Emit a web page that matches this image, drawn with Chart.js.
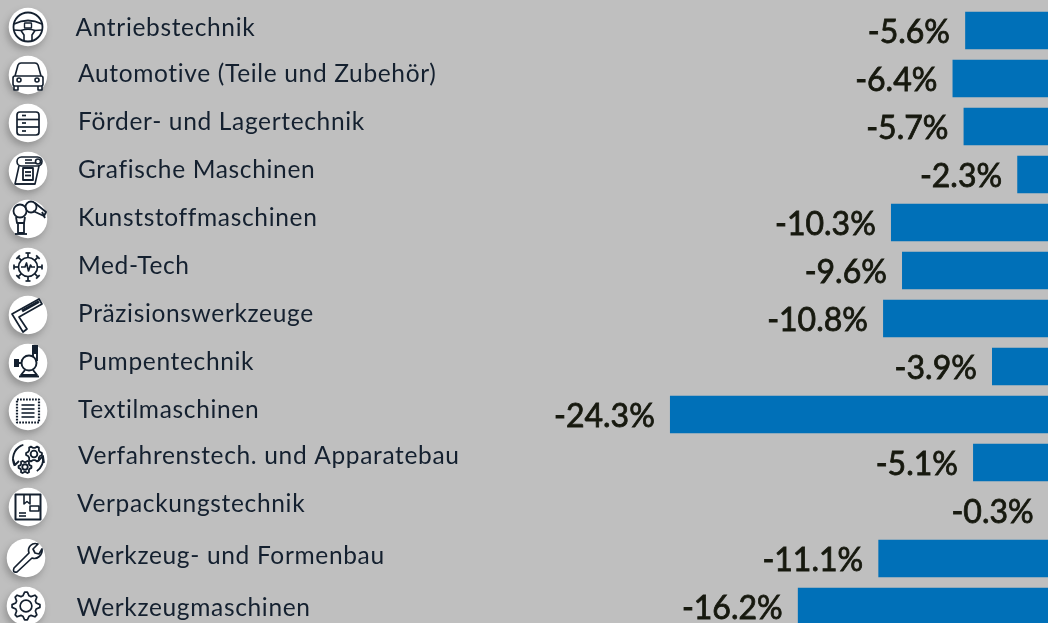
<!DOCTYPE html>
<html><head><meta charset="utf-8">
<style>html,body{margin:0;padding:0;background:#bfbfbf;overflow:hidden;width:1048px;height:623px}
#w{position:absolute;left:0;top:0;width:1054px;height:640px}</style>
<script src="https://cdn.jsdelivr.net/npm/chart.js@4"></script>
</head><body><div id="w"><canvas id="c" width="1054" height="640"></canvas></div>
<script>
const categories = ["Antriebstechnik","Automotive (Teile und Zubehör)","Förder- und Lagertechnik","Grafische Maschinen","Kunststoffmaschinen","Med-Tech","Präzisionswerkzeuge","Pumpentechnik","Textilmaschinen","Verfahrenstech. und Apparatebau","Verpackungstechnik","Werkzeug- und Formenbau","Werkzeugmaschinen"];
const changes = [-5.6,-6.4,-5.7,-2.3,-10.3,-9.6,-10.8,-3.9,-24.3,-5.1,-0.3,-11.1,-16.2];
const labelX = [75.5,78,78,78,78,78,78,78,78,78,77,76.5,76.5];
const labelY = [28,74,122,170,218,266,314,362,410,456,504,556,608];
const iconX = [28,28,28,28,28,28,28,28,28,28,28,26,26];
const iconY = [27,75,123,171,219,267,315,363,411,459,507,558,606];
const INK = "#14202f";

function P(g,pts,close){g.beginPath();pts.forEach((p,i)=>i?g.lineTo(p[0],p[1]):g.moveTo(p[0],p[1]));if(close)g.closePath();g.stroke();}
function C(g,x,y,r){g.beginPath();g.arc(x,y,r,0,Math.PI*2);g.stroke();}
function RR(g,x,y,w,h,r){g.beginPath();g.roundRect(x,y,w,h,r);g.stroke();}
function gear(g,x,y,r,n){
  const pts=[];const st=Math.PI*2/(n*4);
  for(let i=0;i<n*4;i++){const a=(i-0.5)*st;const R=(i%4<2)?r:r*0.76;pts.push([x+R*Math.cos(a),y+R*Math.sin(a)]);}
  P(g,pts,true);C(g,x,y,r*0.42);
}
const icons = [
 g=>{g.lineWidth=1.8;C(g,0,0,14.5);
     g.beginPath();g.moveTo(-14,-3);g.quadraticCurveTo(0,-10,14,-3);g.stroke();
     g.lineWidth=1.4;RR(g,-3.5,-4,7,5,0.5);g.lineWidth=1.6;
     P(g,[[-14,3],[-7,3.5],[-4,8],[-4,14]]);P(g,[[14,3],[7,3.5],[4,8],[4,14]]);
     g.beginPath();g.moveTo(-7,3.5);g.quadraticCurveTo(0,1,7,3.5);g.stroke();},
 g=>{g.lineWidth=1.6;g.beginPath();g.moveTo(-13,1);g.lineTo(-10,-10);g.quadraticCurveTo(-9,-12,-7,-12);g.lineTo(7,-12);g.quadraticCurveTo(9,-12,10,-10);g.lineTo(13,1);g.stroke();
     RR(g,-15,1,30,10,2);C(g,-9,5,2);C(g,9,5,2);
     P(g,[[-14,11],[-14,15],[-10,15],[-10,11]]);P(g,[[14,11],[14,15],[10,15],[10,11]]);},
 g=>{g.lineWidth=1.7;RR(g,-11,-11,22,23,3);P(g,[[-11,-3.5],[11,-3.5]]);P(g,[[-11,4],[11,4]]);
     P(g,[[-6,-7.5],[-2,-7.5]]);P(g,[[-6,0],[-2,0]]);P(g,[[-6,8],[-2,8]]);},
 g=>{g.lineWidth=1.6;RR(g,-11,-14,25,9,4.5);C(g,10,-9.5,2.5);P(g,[[-3,-11],[4,-11]]);P(g,[[-3,-8],[8,-8]]);
     P(g,[[-9,-5],[-13,13],[7,13],[11,-5]]);P(g,[[-13,13],[7,13]]);
     g.lineWidth=1.8;RR(g,-5,-3,10,12,0);P(g,[[-3,1],[3,1]]);P(g,[[-3,4.5],[3,4.5]]);},
 g=>{g.lineWidth=1.8;C(g,-8,-8,6.5);C(g,3,-12,5.5);
     P(g,[[7,-16],[18,-7],[16,-3],[5,-8]]);P(g,[[14,-7],[17,-1]]);
     P(g,[[-12,-2],[-11,4],[-4,4],[-3,-2]]);
     P(g,[[-10,4],[-10,14],[-4,14],[-4,4]]);P(g,[[-13,15],[-1,15]]);},
 g=>{g.lineWidth=1.7;C(g,0,0,9.5);
     for(let i=0;i<8;i++){const a=i*Math.PI/4;const c=Math.cos(a),s=Math.sin(a);
       P(g,[[c*9.5,s*9.5],[c*14,s*14]]);P(g,[[c*14-s*2.5,s*14+c*2.5],[c*14+s*2.5,s*14-c*2.5]]);}
     P(g,[[-7,0],[-3,0],[-1.5,-4],[0.5,4],[2.5,-2],[3.5,0],[7,0]]);},
 g=>{g.lineWidth=1.7;P(g,[[-16,-1],[11,-16],[14,-11],[-9,2],[-1,14],[-5,17]],true);
     g.lineWidth=3;P(g,[[-6,-4],[11,-13.5]]);},
 g=>{g.lineWidth=1.9;C(g,1,0,7.5);P(g,[[-6,0],[-9,0]]);
     g.fillStyle=INK;g.fillRect(-14,-4,5,8);
     P(g,[[5,-6],[5,-9]]);P(g,[[9,-2],[9,-9]]);g.fillRect(4,-18,6,9);
     P(g,[[-3,7],[-7,12],[9,12],[5,7]]);P(g,[[-9,13.5],[11,13.5]]);},
 g=>{g.beginPath();g.rect(-11,-11.5,22,23);g.setLineDash([1.8,1.2]);g.lineWidth=2.2;g.stroke();g.setLineDash([]);g.lineWidth=1.6;
     P(g,[[-6.5,-6],[6.5,-6]]);P(g,[[-6.5,-2],[6.5,-2]]);P(g,[[-6.5,2],[6.5,2]]);P(g,[[-6.5,6],[6.5,6]]);},
 g=>{g.lineWidth=1.8;gear(g,6,-5,8,6);gear(g,-3,8,6.5,6);
     g.beginPath();g.arc(0,0,15,Math.PI*0.85,Math.PI*1.4);g.stroke();
     g.beginPath();g.arc(0,0,15,Math.PI*1.95,Math.PI*0.3);g.stroke();
     P(g,[[-15,0],[-13,6],[-9,2]]);P(g,[[10,2],[15,-3],[16,4]]);},
 g=>{g.lineWidth=2;RR(g,-12.5,-12.5,25,25,0);g.lineWidth=1.6;
     P(g,[[-4,-12],[-4,-3],[-1,-5.5],[2,-3],[2,-12]]);
     RR(g,2,-1,9,5,0);P(g,[[-9,6],[-2,6]]);P(g,[[-9,9],[-2,9]]);},
 g=>{g.lineWidth=1.7;g.beginPath();g.moveTo(-12,10);g.lineTo(3,-5);g.bezierCurveTo(1,-11,6,-16,12,-14);g.lineTo(7,-9);g.lineTo(9,-5);g.lineTo(13,-4);g.lineTo(16,-9);
     g.bezierCurveTo(17,-3,11,2,6,0);g.lineTo(-9,14);g.quadraticCurveTo(-14,15,-12,10);g.closePath();g.stroke();},
 g=>{g.lineWidth=1.7;gear(g,0,0,14,8);}
];

const overlay = {
  id:"overlay",
  afterDatasetsDraw(ch){
    const g=ch.ctx,ys=ch.scales.y,xs=ch.scales.x;
    g.save();
    categories.forEach((t,i)=>{
      g.font='400 24.5px "Lato","Noto Sans",sans-serif';
      g.letterSpacing="0.66px";
      g.fillStyle=INK;g.textAlign="left";g.textBaseline="middle";
      g.fillText(t,labelX[i],labelY[i]);
      g.letterSpacing="0px";
      g.font='400 32px "Lato","Noto Sans",sans-serif';
      g.fillStyle="#17190f";g.strokeStyle="#17190f";g.lineWidth=0.8;g.textAlign="right";g.textBaseline="middle";
      const vx=xs.getPixelForValue(changes[i])-15.5,vy=ys.getPixelForValue(i)+2;
      const vt=changes[i].toFixed(1)+"%";
      g.fillText(vt,vx,vy);g.strokeText(vt,vx,vy);
      g.save();
      g.translate(iconX[i],iconY[i]);
      g.shadowColor="rgba(80,80,80,.4)";g.shadowBlur=7;g.shadowOffsetX=-2;g.shadowOffsetY=4;
      g.fillStyle="#fff";g.beginPath();g.arc(0,0,19.3,0,Math.PI*2);g.fill();
      g.shadowColor="transparent";g.shadowBlur=0;g.shadowOffsetX=0;g.shadowOffsetY=0;
      g.strokeStyle=INK;g.lineWidth=1.5;g.lineJoin="round";
      icons[i](g);
      g.restore();
    });
    g.restore();
  }
};
new Chart(document.getElementById("c"),{
  type:"bar",
  data:{labels:categories,datasets:[{data:changes,backgroundColor:"#0070b8",borderWidth:0,barThickness:37}]},
  options:{
    indexAxis:"y",responsive:false,animation:false,
    layout:{padding:{left:0,right:0.1,top:6.5,bottom:9.5}},
    plugins:{legend:{display:false},tooltip:{enabled:false}},
    scales:{
      x:{min:-66.76,max:0,display:false,grid:{display:false}},
      y:{display:false,grid:{display:false}}
    }
  },
  plugins:[overlay]
});
</script></body></html>
